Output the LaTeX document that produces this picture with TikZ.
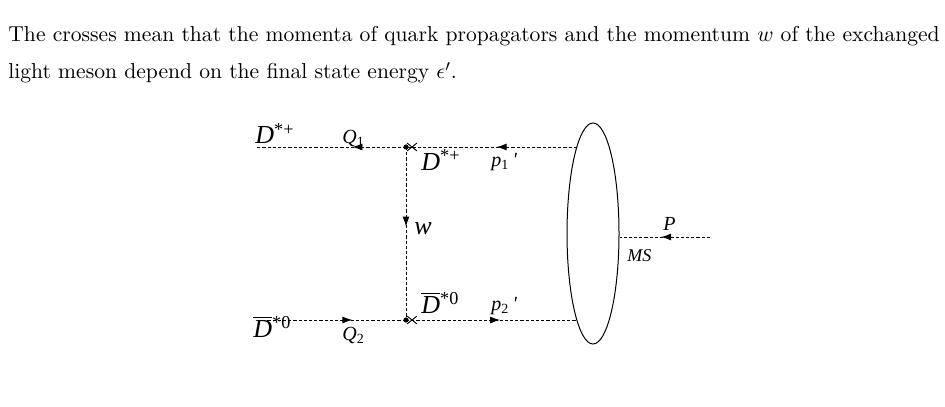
\documentclass[tikz,border=0pt]{standalone}
\usepackage{fontspec}
\usepackage{tikz}
\usetikzlibrary{shapes,arrows.meta,positioning,calc,decorations.markings}
\newfontfamily\diagfont{Liberation Serif}

\begin{document}
\begin{tikzpicture}[
    x=0.5pt, y=-0.5pt,
    line/.style={draw, dash pattern=on 1.6pt off 1pt, line width=0.45pt},
    arr/.style={postaction={decorate}, decoration={markings, mark=at position #1 with {\arrow{Latex[length=5pt,width=3.5pt]}}}},
    xmark/.style={draw, cross out, line width=0.45pt, minimum width=4.5pt, minimum height=3.5pt, inner sep=0pt},
    lbl/.style={font=\diagfont\itshape\fontsize{10}{12}\selectfont, inner sep=0pt, anchor=base west},
    biglbl/.style={font=\diagfont\itshape\fontsize{13}{15}\selectfont, inner sep=0pt, anchor=base west},
    txt/.style={font=\fontsize{10.8}{13}\selectfont, inner sep=0pt, anchor=base west}
]
    \useasboundingbox (0,0) rectangle (945,406);

    % caption text
    \node[txt] (line1) at (8,42) {The crosses mean that the momenta of quark propagators and the momentum $w$ of the exchanged};
    \node[txt] (line2) at (8,79) {light meson depend on the final state energy $\epsilon'$.};

    % vertices and ends
    \coordinate (in1) at (257,147);
    \coordinate (in2) at (257,320);
    \coordinate (v1) at (406,147);
    \coordinate (v2) at (406,320);
    \coordinate (e1) at (577,147);
    \coordinate (e2) at (577,320);
    \coordinate (pin) at (710,237);
    \node[ellipse, draw, line width=0.5pt, minimum width=26pt, minimum height=110.5pt, inner sep=0pt] (ms) at (593,233.5) {};

    \draw[line, arr=0.36] (v1) -- (in1);
    \draw[line, arr=0.47] (e1) -- (v1);
    \draw[line, arr=0.46] (v1) -- (v2);
    \draw[line, arr=0.64] (in2) -- (v2);
    \draw[line, arr=0.55] (v2) -- (e2);
    \draw[line, arr=0.54] (pin) -- (ms.east |- pin);

    \foreach \v in {1,2} {
        \fill (v\v) circle (1.3pt);
        \node[xmark] (x\v) at ($(v\v)+(6,0)$) {};
    }

    % labels
    \node[biglbl] (din1) at (255,144) {D\textsuperscript{\upshape *+}};
    \node[lbl] (q1) at (342,144) {Q\textsubscript{\upshape 1}};
    \node[biglbl] (dout1) at (421,170) {D\textsuperscript{\upshape *+}};
    \node[lbl] (p1) at (491,167) {p\textsubscript{\upshape 1}\,'};
    \node[biglbl] (w) at (414,234) {w};
    \node[biglbl] (dout2) at (421,313) {$\overline{\mbox{D}}$\textsuperscript{\upshape *0}};
    \node[lbl] (p2) at (491,310) {p\textsubscript{\upshape 2}\,'};
    \node[biglbl] (din2) at (253,337) {$\overline{\mbox{D}}$\textsuperscript{\upshape *0}};
    \node[lbl] (q2) at (342,340) {Q\textsubscript{\upshape 2}};
    \node[lbl] (plbl) at (663,230) {P};
    \node[lbl, font=\diagfont\itshape\fontsize{9}{11}\selectfont] (mslbl) at (627,261) {MS};
\end{tikzpicture}
\end{document}
